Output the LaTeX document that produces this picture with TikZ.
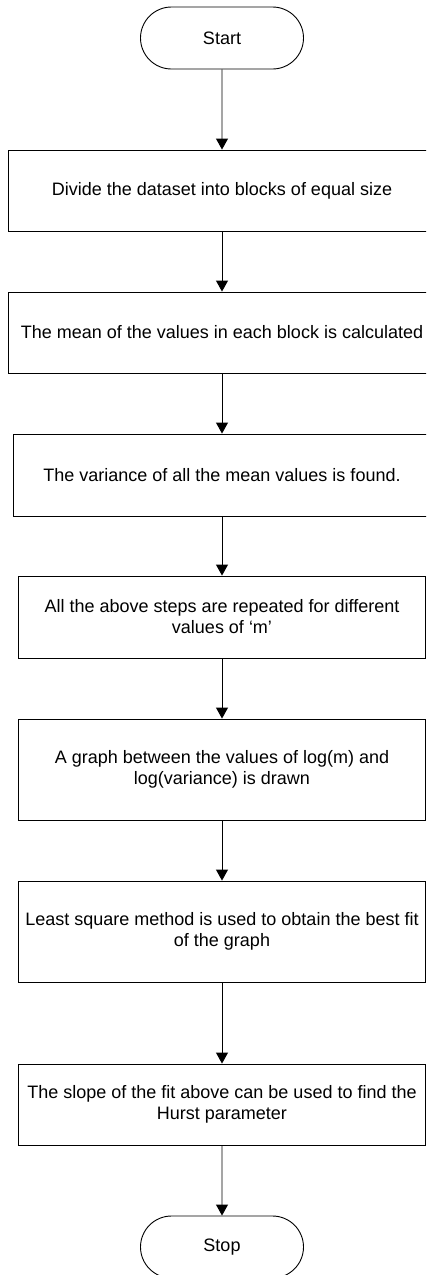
\documentclass[tikz,border=0pt]{standalone}
\usepackage{fontspec}
\setmainfont{Liberation Sans}
\usetikzlibrary{arrows.meta,shapes.misc}
\begin{document}
\begin{tikzpicture}[x=1pt,y=-1pt,
  every node/.style={font=\fontsize{18}{21}\selectfont, align=center, inner sep=0pt},
  procbox/.style={draw, line width=0.9pt, minimum width=#1},
  term/.style={draw, line width=0.9pt, rounded rectangle, minimum width=163pt, minimum height=62pt},
  arr/.style={draw, line width=0.9pt, -{Triangle[width=12pt,length=11pt]}}]
\useasboundingbox (0,0) rectangle (426,1275);
\clip (0,0) rectangle (426,1275);
\node[term] (start) at (222,38) {Start};
\node[procbox=428pt, minimum height=81pt] (b1) at (222,190.5) {Divide the dataset into blocks of equal size};
\node[procbox=428pt, minimum height=81pt] (b2) at (222,332.5) {The mean of the values in each block is calculated};
\node[procbox=418pt, minimum height=82pt] (b3) at (222,475) {The variance of all the mean values is found.};
\node[procbox=407pt, minimum height=82pt] (b4) at (222,617) {All the above steps are repeated for different\\values of ‘m’};
\node[procbox=407pt, minimum height=101pt] (b5) at (222,769.5) {A graph between the values of log(m) and\\log(variance) is drawn};
\node[procbox=407pt, minimum height=101pt] (b6) at (222,931.5) {Least square method is used to obtain the best fit\\of the graph};
\node[procbox=407pt, minimum height=81pt] (b7) at (222,1104.5) {The slope of the fit above can be used to find the\\Hurst parameter};
\node[term] (stop) at (222,1247) {Stop};
\draw[arr] (start) -- (b1);
\draw[arr] (b1) -- (b2);
\draw[arr] (b2) -- (b3);
\draw[arr] (b3) -- (b4);
\draw[arr] (b4) -- (b5);
\draw[arr] (b5) -- (b6);
\draw[arr] (b6) -- (b7);
\draw[arr] (b7) -- (stop);
\end{tikzpicture}
\end{document}
